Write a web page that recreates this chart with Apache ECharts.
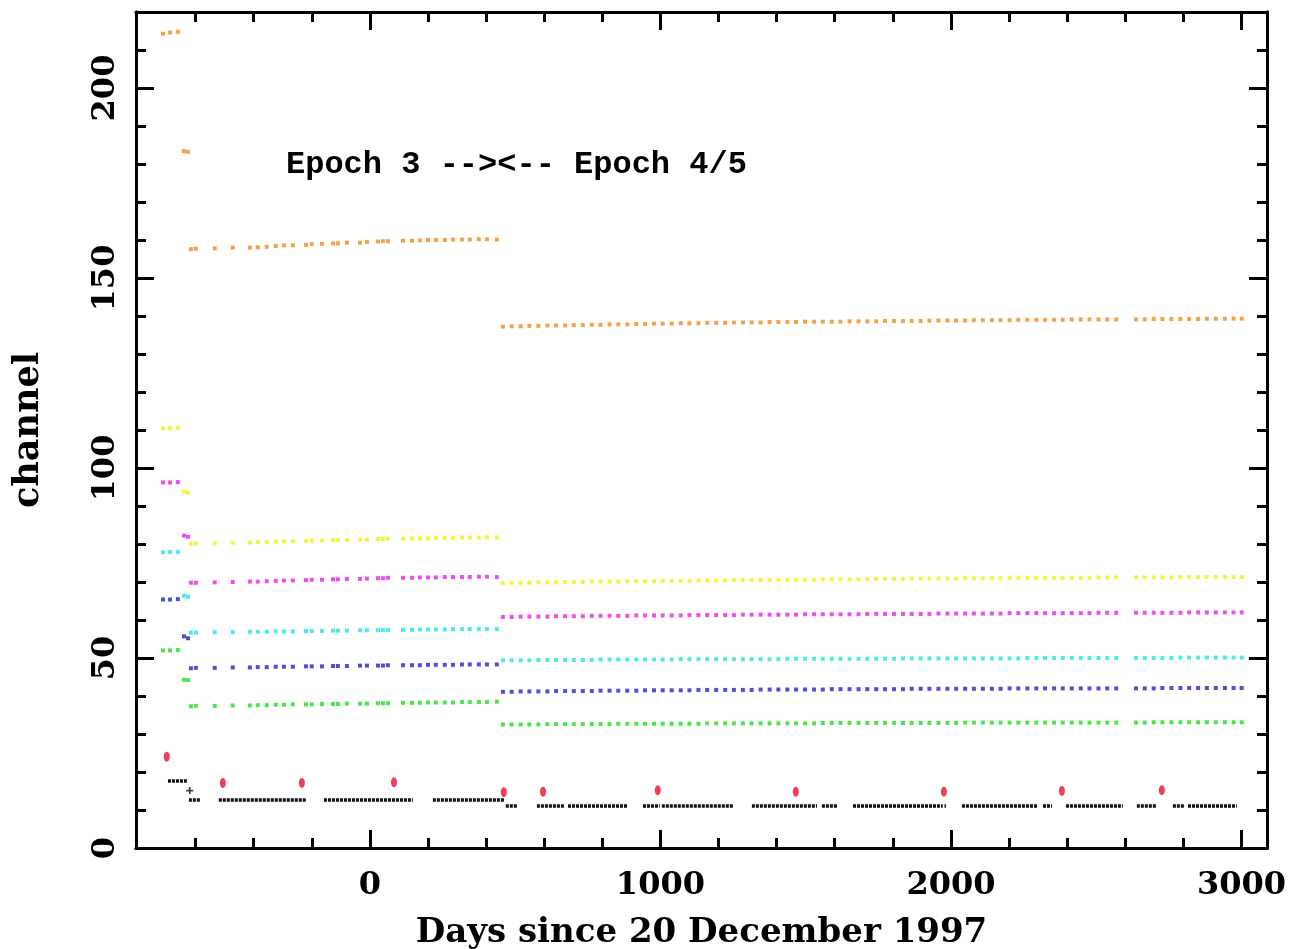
<!DOCTYPE html>
<html>
<head>
<meta charset="utf-8">
<script src="https://cdn.jsdelivr.net/npm/echarts@6/dist/echarts.min.js"></script>
<style>
html,body{margin:0;padding:0;background:#fff;}
#chart{width:1291px;height:949px;}
</style>
</head>
<body>
<div id="chart"></div>
<script>
// ---------- DATA ----------
const xMajorTicks = [0, 1000, 2000, 3000];
const xMinorTicks = [-600, -400, -200, 200, 400, 600, 800, 1200, 1400, 1600, 1800, 2200, 2400, 2600, 2800];
const yMajorTicks = [0, 50, 100, 150, 200];
const yMinorTicks = [10, 20, 30, 40, 60, 70, 80, 90, 110, 120, 130, 140, 160, 170, 180, 190, 210];

const earlyDays = [-712, -688, -661, -640, -626];
const epoch3Days = [-616, -599, -534, -472, -413, -386, -355, -324, -296, -265, -220, -200, -165, -127, -110, -79, -34, -10, 28, 45, 62, 114, 145, 172, 200, 227, 258, 286, 317, 344, 375, 403, 437];
const epoch45Days = [458, 488, 519, 549, 580, 611, 641, 672, 702, 733, 764, 794, 825, 855, 886, 917, 947, 978, 1008, 1039,
  1070, 1100, 1131, 1161, 1192, 1223, 1253, 1284, 1314, 1345, 1376, 1406, 1437, 1467, 1498, 1529, 1559, 1590, 1620, 1651,
  1682, 1712, 1743, 1773, 1804, 1835, 1865, 1896, 1926, 1957, 1988, 2018, 2049, 2079, 2110, 2141, 2171, 2202, 2232, 2263,
  2294, 2324, 2355, 2385, 2416, 2447, 2477, 2508, 2538, 2569, 2637, 2667, 2698, 2728, 2759, 2790, 2820, 2851, 2881, 2912,
  2943, 2973, 3001];

const orangeEarly = [214.3, 214.6, 214.8, 183.4, 183.2];
const orangeEpoch3 = [157.6,157.7,157.8,158.0,158.0,158.1,158.2,158.4,158.6,158.6,158.7,158.9,159.0,159.1,159.1,159.3,159.3,159.5,159.6,159.7,159.7,159.8,159.8,159.9,160.0,160.0,160.0,160.1,160.1,160.1,160.2,160.2,160.1];
const orangeEpoch45 = [137.2,137.3,137.3,137.4,137.4,137.5,137.5,137.5,137.6,137.6,
  137.7,137.7,137.8,137.8,137.8,137.9,137.9,138.0,138.0,138.0,
  138.1,138.1,138.1,138.2,138.2,138.2,138.3,138.3,138.3,138.3,
  138.4,138.4,138.4,138.4,138.5,138.5,138.5,138.5,138.5,138.6,
  138.6,138.6,138.6,138.7,138.7,138.7,138.7,138.7,138.8,138.8,
  138.8,138.8,138.8,138.9,138.9,138.9,138.9,138.9,139.0,139.0,
  139.0,139.0,139.0,139.0,139.1,139.1,139.1,139.1,139.1,139.1,
  139.1,139.1,139.2,139.2,139.2,139.2,139.2,139.2,139.3,139.3,139.3,139.3,139.3];

const yellowEarly = [110.4, 110.5, 110.5, 93.8, 93.5];
const yellowEpoch3 = [80.1,80.1,80.2,80.3,80.4,80.5,80.5,80.6,80.7,80.7,80.8,80.9,80.9,81.0,81.0,81.1,81.2,81.2,81.3,81.3,81.4,81.4,81.5,81.5,81.5,81.6,81.6,81.6,81.7,81.7,81.7,81.8,81.7];
const yellowEpoch45 = [69.7,69.8,69.8,69.8,69.9,69.9,69.9,70.0,70.0,70.0,
  70.1,70.1,70.1,70.1,70.2,70.2,70.2,70.2,70.3,70.3,
  70.3,70.3,70.4,70.4,70.4,70.4,70.5,70.5,70.5,70.5,
  70.5,70.6,70.6,70.6,70.6,70.6,70.7,70.7,70.7,70.7,
  70.7,70.8,70.8,70.8,70.8,70.8,70.9,70.9,70.9,70.9,
  70.9,70.9,71.0,71.0,71.0,71.0,71.0,71.0,71.0,71.1,
  71.1,71.1,71.1,71.1,71.1,71.1,71.1,71.2,71.2,71.2,
  71.2,71.2,71.2,71.2,71.2,71.3,71.3,71.3,71.3,71.3,71.3,71.3,71.3];

const magentaEarly = [96.2, 96.2, 96.3, 82.2, 81.9];
const magentaEpoch3 = [69.8,69.8,69.9,70.0,70.1,70.1,70.2,70.3,70.4,70.4,70.5,70.6,70.6,70.7,70.7,70.8,70.8,70.9,71.0,71.0,71.1,71.1,71.1,71.2,71.2,71.2,71.3,71.3,71.3,71.3,71.4,71.4,71.3];
const magentaEpoch45 = [60.8,60.8,60.9,60.9,60.9,60.9,61.0,61.0,61.0,61.0,
  61.1,61.1,61.1,61.1,61.1,61.2,61.2,61.2,61.2,61.2,
  61.2,61.3,61.3,61.3,61.3,61.3,61.3,61.4,61.4,61.4,
  61.4,61.4,61.4,61.4,61.5,61.5,61.5,61.5,61.5,61.5,
  61.5,61.6,61.6,61.6,61.6,61.6,61.6,61.6,61.6,61.7,
  61.7,61.7,61.7,61.7,61.7,61.7,61.7,61.8,61.8,61.8,
  61.8,61.8,61.8,61.8,61.8,61.8,61.8,61.9,61.9,61.9,
  61.9,61.9,61.9,61.9,61.9,61.9,62.0,62.0,62.0,62.0,62.0,62.0,62.0];

const cyanEarly = [77.8, 77.9, 77.9, 66.4, 66.1];
const cyanEpoch3 = [56.7,56.7,56.8,56.8,56.9,56.9,56.9,57.0,57.0,57.0,57.1,57.1,57.1,57.2,57.2,57.2,57.3,57.3,57.3,57.4,57.4,57.4,57.4,57.5,57.5,57.5,57.5,57.6,57.6,57.6,57.6,57.6,57.6];
const cyanEpoch45 = [49.4,49.4,49.4,49.4,49.5,49.5,49.5,49.5,49.5,49.5,
  49.5,49.6,49.6,49.6,49.6,49.6,49.6,49.6,49.6,49.6,
  49.7,49.7,49.7,49.7,49.7,49.7,49.7,49.7,49.7,49.7,
  49.7,49.7,49.8,49.8,49.8,49.8,49.8,49.8,49.8,49.8,
  49.8,49.8,49.8,49.8,49.8,49.9,49.9,49.9,49.9,49.9,
  49.9,49.9,49.9,49.9,49.9,49.9,49.9,49.9,49.9,50.0,
  50.0,50.0,50.0,50.0,50.0,50.0,50.0,50.0,50.0,50.0,
  50.0,50.0,50.0,50.0,50.0,50.1,50.1,50.1,50.1,50.1,50.1,50.1,50.1];

const blueEarly = [65.4, 65.4, 65.5, 55.7, 55.2];
const blueEpoch3 = [47.3,47.4,47.4,47.5,47.5,47.6,47.6,47.7,47.7,47.7,47.8,47.8,47.8,47.9,47.9,47.9,48.0,48.0,48.0,48.0,48.1,48.1,48.1,48.1,48.2,48.2,48.2,48.2,48.3,48.3,48.3,48.3,48.3];
const blueEpoch45 = [41.1,41.1,41.2,41.2,41.2,41.2,41.3,41.3,41.3,41.3,
  41.3,41.4,41.4,41.4,41.4,41.4,41.5,41.5,41.5,41.5,
  41.5,41.5,41.6,41.6,41.6,41.6,41.6,41.6,41.6,41.7,
  41.7,41.7,41.7,41.7,41.7,41.7,41.7,41.8,41.8,41.8,
  41.8,41.8,41.8,41.8,41.8,41.8,41.9,41.9,41.9,41.9,
  41.9,41.9,41.9,41.9,41.9,41.9,41.9,42.0,42.0,42.0,
  42.0,42.0,42.0,42.0,42.0,42.0,42.0,42.0,42.0,42.0,
  42.0,42.0,42.0,42.1,42.1,42.1,42.1,42.1,42.1,42.1,42.1,42.1,42.1];

const greenEarly = [52.0, 52.0, 52.1, 44.3, 44.2];
const greenEpoch3 = [37.3,37.4,37.4,37.5,37.5,37.6,37.6,37.7,37.7,37.8,37.8,37.8,37.9,37.9,37.9,38.0,38.0,38.0,38.1,38.1,38.1,38.2,38.2,38.2,38.3,38.3,38.3,38.3,38.4,38.4,38.4,38.4,38.5];
const greenEpoch45 = [32.5,32.5,32.5,32.5,32.5,32.6,32.6,32.6,32.6,32.6,
  32.6,32.6,32.6,32.7,32.7,32.7,32.7,32.7,32.7,32.7,
  32.7,32.7,32.7,32.8,32.8,32.8,32.8,32.8,32.8,32.8,
  32.8,32.8,32.8,32.8,32.8,32.8,32.9,32.9,32.9,32.9,
  32.9,32.9,32.9,32.9,32.9,32.9,32.9,32.9,32.9,32.9,
  32.9,32.9,33.0,33.0,33.0,33.0,33.0,33.0,33.0,33.0,
  33.0,33.0,33.0,33.0,33.0,33.0,33.0,33.0,33.0,33.0,
  33.0,33.0,33.1,33.1,33.1,33.1,33.1,33.1,33.1,33.1,33.1,33.1,33.1];

// black: continuous runs of dense measurements [startDay, endDay, channel]
const blackRuns = [
  [-695, -630, 17.6],
  [-623, -585, 12.6], [-520, -217, 12.6], [-158, 148, 12.6], [217, 462, 12.6],
  [468, 509, 11.0], [575, 671, 11.0], [682, 885, 11.0], [940, 998, 11.0], [1005, 1250, 11.0],
  [1315, 1539, 11.0], [1556, 1611, 11.0], [1663, 1972, 11.0], [1978, 1983, 11.0], [2038, 2300, 11.0],
  [2317, 2348, 11.0], [2396, 2592, 11.0], [2640, 2709, 11.0], [2764, 2802, 11.0], [2816, 2984, 11.0]
];
const blackSingleDays = [-620];
const blackSingleValues = [15.1];

const redDays = [-699, -506, -234, 83, 461, 596, 991, 1466, 1976, 2382, 2726];
const redValues = [24.0, 17.1, 17.1, 17.3, 14.7, 14.8, 15.2, 14.8, 14.8, 15.0, 15.2];

const annotation = 'Epoch 3 --><-- Epoch 4/5';
const xTitle = 'Days since 20 December 1997';
const yTitle = 'channel';

// ---------- CHART ----------
const X_MIN = -805, X_MAX = 3088, Y_MIN = 0, Y_MAX = 220;
const FONT = '"DejaVu Serif", serif';

function zip(xs, ys) { return xs.map((x, i) => [x, ys[i]]); }
function seriesData(early, e3, e45) {
  return zip(earlyDays, early).concat(zip(epoch3Days, e3), zip(epoch45Days, e45));
}
const colorSets = [
  ['orange', '#f28a1e', orangeEarly, orangeEpoch3, orangeEpoch45],
  ['yellow', '#f0f010', yellowEarly, yellowEpoch3, yellowEpoch45],
  ['magenta', '#ea22ea', magentaEarly, magentaEpoch3, magentaEpoch45],
  ['cyan', '#22e4e4', cyanEarly, cyanEpoch3, cyanEpoch45],
  ['blue', '#2222cc', blueEarly, blueEpoch3, blueEpoch45],
  ['green', '#1ede1e', greenEarly, greenEpoch3, greenEpoch45]
];

const lineStyleAxis = { color: '#000', width: 3 };
const plainNum = v => String(v);
function xAxisDef(position, ticks, len, withLabels) {
  return {
    type: 'value', position: position, min: X_MIN, max: X_MAX,
    axisLine: { show: true, onZero: false, lineStyle: lineStyleAxis },
    axisTick: { show: true, inside: true, length: len, customValues: ticks, lineStyle: { color: '#000', width: 3 } },
    axisLabel: withLabels ? { show: true, customValues: ticks, margin: 22, color: '#000', formatter: plainNum,
      fontFamily: FONT, fontWeight: 'bold', fontSize: 32 } : { show: false },
    splitLine: { show: false },
    name: withLabels ? xTitle : '', nameLocation: 'middle', nameGap: 68,
    nameTextStyle: { fontFamily: FONT, fontWeight: 'bold', fontSize: 34, color: '#000' }
  };
}
function yAxisDef(position, ticks, len, withLabels) {
  return {
    type: 'value', position: position, min: Y_MIN, max: Y_MAX,
    axisLine: { show: true, onZero: false, lineStyle: lineStyleAxis },
    axisTick: { show: true, inside: true, length: len, customValues: ticks, lineStyle: { color: '#000', width: 3 } },
    axisLabel: withLabels ? { show: true, customValues: ticks, rotate: 90, margin: 14, color: '#000', formatter: plainNum,
      fontFamily: FONT, fontWeight: 'bold', fontSize: 32 } : { show: false },
    splitLine: { show: false },
    name: withLabels ? yTitle : '', nameLocation: 'middle', nameGap: 90, nameRotate: 90,
    nameTextStyle: { fontFamily: FONT, fontWeight: 'bold', fontSize: 35, color: '#000' }
  };
}

const series = colorSets.map(c => ({
  name: c[0], type: 'scatter', xAxisIndex: 0, yAxisIndex: 0,
  symbol: 'rect', symbolSize: 4, itemStyle: { color: c[1] },
  data: seriesData(c[2], c[3], c[4]), silent: true, animation: false
}));
series.push({
  name: 'black', type: 'lines', coordinateSystem: 'cartesian2d', xAxisIndex: 0, yAxisIndex: 0,
  data: blackRuns.map(r => ({ coords: [[r[0], r[2]], [r[1], r[2]]] })),
  lineStyle: { color: '#111', width: 3.5, type: [3, 1], opacity: 1 }, silent: true, animation: false
});
series.push({
  name: 'blackPlus', type: 'scatter', xAxisIndex: 0, yAxisIndex: 0,
  symbol: 'path://M3,0h2v3h3v2h-3v3h-2v-3h-3v-2h3z', symbolSize: 7,
  itemStyle: { color: '#111' }, data: zip(blackSingleDays, blackSingleValues), silent: true, animation: false
});
series.push({
  name: 'red', type: 'scatter', xAxisIndex: 0, yAxisIndex: 0,
  symbol: 'circle', symbolSize: [6, 10], itemStyle: { color: '#e8102e' },
  data: zip(redDays, redValues), silent: true, animation: false
});

const chart = echarts.init(document.getElementById('chart'), null, { renderer: 'canvas' });
chart.setOption({
  backgroundColor: '#fff',
  animation: false,
  grid: { left: 136, right: 24, top: 12, bottom: 101, containLabel: false, outerBoundsMode: 'none' },
  xAxis: [
    xAxisDef('bottom', xMajorTicks, 18, true),
    xAxisDef('bottom', xMinorTicks, 10, false),
    xAxisDef('top', xMajorTicks, 18, false),
    xAxisDef('top', xMinorTicks, 10, false)
  ],
  yAxis: [
    yAxisDef('left', yMajorTicks, 18, true),
    yAxisDef('left', yMinorTicks, 10, false),
    yAxisDef('right', yMajorTicks, 18, false),
    yAxisDef('right', yMinorTicks, 10, false)
  ],
  graphic: [{
    type: 'text', left: 286, top: 149, silent: true,
    style: { text: annotation, fill: '#000', font: 'bold 32px "Liberation Mono", monospace' }
  }],
  series: series
});
</script>
</body>
</html>
